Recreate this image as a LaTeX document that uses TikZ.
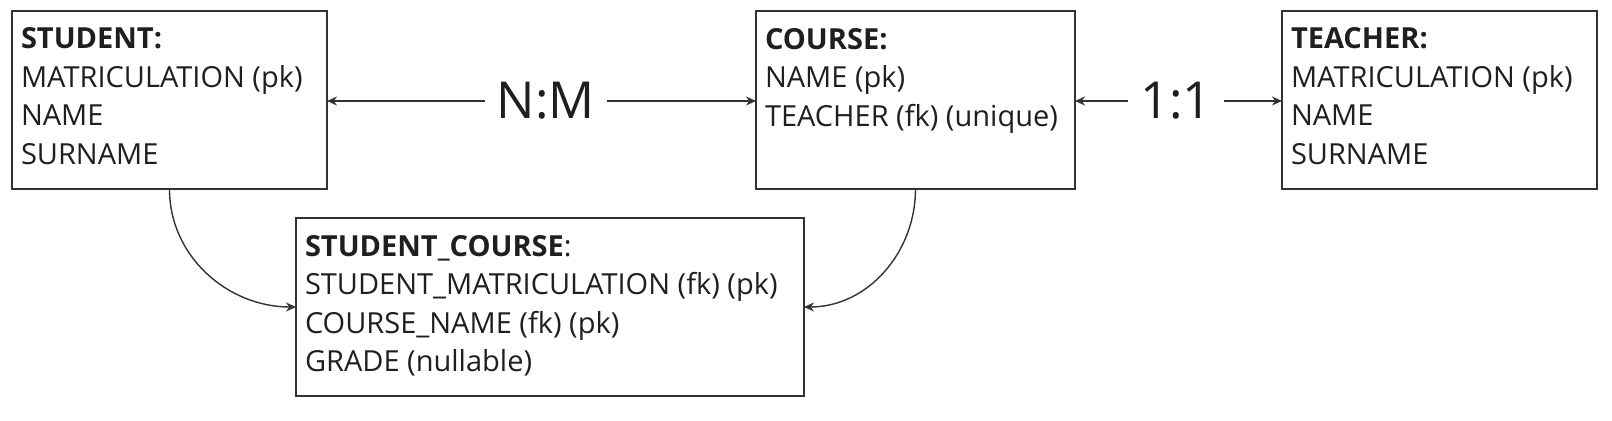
\documentclass[tikz,border=0pt]{standalone}
\usepackage{fontspec}
\setmainfont{Open Sans}
\usepackage{xcolor}
\usepackage{tikz}
\usetikzlibrary{arrows.meta,calc}

\definecolor{linegray}{HTML}{333333}
\definecolor{textgray}{HTML}{1F1F1F}

% top aligned text block inside an entity box
\newcommand{\fields}[2][148.5pt]{\parbox[c][72pt][t]{#1}{#2}}

\begin{document}
\begin{tikzpicture}[
    x=0.5pt, y=0.5pt,
    >={Stealth[length=5pt,width=4.5pt]},
    entity/.style={rectangle, draw=linegray, line width=0.75pt, anchor=north west,
        inner xsep=4.5pt, inner ysep=8.5pt, outer sep=0pt, text=textgray,
        font=\fontsize{14.5pt}{19.25pt}\selectfont},
    ratio/.style={text=textgray, inner sep=6pt, font=\fontsize{25.5pt}{30pt}\selectfont},
    link/.style={->, draw=linegray, line width=0.7pt}
]
    \useasboundingbox (0,0) rectangle (1612,-421);

    % Entities
    \node[entity] (student) at (12,-11) {\fields{\textbf{STUDENT:}\\MATRICULATION (pk)\\NAME\\SURNAME}};
    \node[entity] (course) at (756,-11) {\fields[150.5pt]{\textbf{COURSE:}\\NAME (pk)\\TEACHER (fk) (unique)}};
    \node[entity] (teacher) at (1282,-11) {\fields{\textbf{TEACHER:}\\MATRICULATION (pk)\\NAME\\SURNAME}};

    % Join table
    \node[entity] (stcourse) at (296,-218) {\fields[245pt]{\textbf{STUDENT\_COURSE}:\\STUDENT\_MATRICULATION (fk) (pk)\\COURSE\_NAME (fk) (pk)\\GRADE (nullable)}};

    % Cardinalities
    \node[ratio] (nm) at (546,-101) {N:M};
    \node[ratio] (oneone) at (1176,-101) {1:1};

    \draw[link] (nm) -- (student.east |- nm);
    \draw[link] (nm) -- (course.west |- nm);
    \draw[link] (oneone) -- (course.east |- oneone);
    \draw[link] (oneone) -- (teacher.west |- oneone);

    \draw[link] (student.south) to[out=-90, in=180] (stcourse.west);
    \draw[link] (course.south) to[out=-90, in=0] (stcourse.east);
\end{tikzpicture}
\end{document}
